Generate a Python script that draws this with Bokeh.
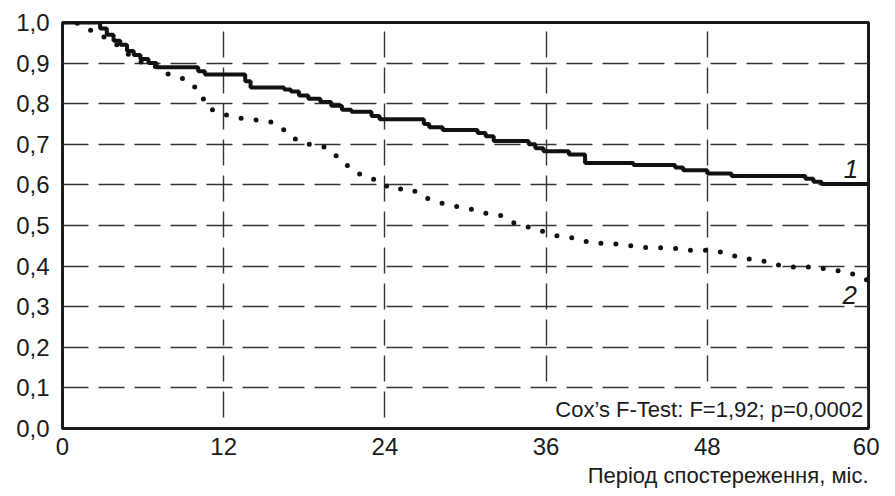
from bokeh.plotting import figure
from bokeh.models import Range1d, FixedTicker, Label, Title
from bokeh.embed import file_html
from bokeh.resources import INLINE

# Group 1 (solid): Kaplan-Meier step events (month, survival)
t1 = [0, 2.8, 3.3, 3.8, 4.3, 4.8, 5.3, 5.8, 6.4, 7.0, 10.1, 10.6, 13.6, 14.0,
      16.5, 17.0, 17.6, 18.3, 19.2, 20.0, 20.8, 21.5, 23.0, 23.6, 26.9, 27.3,
      28.3, 30.9, 31.5, 32.1, 34.7, 35.2, 35.8, 37.7, 38.9, 42.5, 45.6, 46.2,
      48.0, 49.8, 55.3, 55.9, 56.5, 60]
s1 = [1.0, 0.985, 0.97, 0.955, 0.945, 0.93, 0.92, 0.91, 0.90, 0.89, 0.88, 0.872,
      0.855, 0.84, 0.835, 0.83, 0.82, 0.812, 0.804, 0.795, 0.785, 0.78, 0.77,
      0.762, 0.75, 0.742, 0.735, 0.728, 0.72, 0.708, 0.70, 0.69, 0.683, 0.675,
      0.654, 0.649, 0.643, 0.636, 0.628, 0.622, 0.615, 0.608, 0.602, 0.602]

# Group 2 (dotted): survival estimates (month, survival)
t2 = [0, 1.0, 1.7, 2.6, 3.6, 4.3, 5.1, 6.0, 7.1, 7.9, 9.05, 9.8, 10.4, 10.8,
      11.8, 12.8, 14.2, 15.5, 16.5, 17.2, 18.0, 19.4, 20.2, 20.9, 21.6, 22.5,
      23.7, 24.4, 26.0, 26.8, 27.9, 29.0, 30.3, 31.4, 32.7, 33.6, 34.7, 35.8,
      36.9, 38.3, 39.4, 40.9, 42.3, 43.6, 45.2, 46.6, 48.1, 49.5, 50.5, 51.9,
      53.0, 54.4, 55.9, 57.3, 58.6, 59.7, 60]
s2 = [1.0, 1.0, 0.988, 0.972, 0.956, 0.939, 0.916, 0.90, 0.89, 0.872, 0.861,
      0.843, 0.818, 0.79, 0.776, 0.766, 0.761, 0.755, 0.735, 0.715, 0.702,
      0.695, 0.677, 0.657, 0.636, 0.62, 0.609, 0.59, 0.59, 0.571, 0.558, 0.549,
      0.541, 0.531, 0.524, 0.507, 0.496, 0.485, 0.474, 0.468, 0.456, 0.456,
      0.45, 0.445, 0.445, 0.439, 0.439, 0.432, 0.419, 0.415, 0.404, 0.398,
      0.398, 0.391, 0.384, 0.368, 0.365]

x_ticks = [0, 12, 24, 36, 48, 60]
y_ticks = [0.0, 0.1, 0.2, 0.3, 0.4, 0.5, 0.6, 0.7, 0.8, 0.9, 1.0]
y_tick_labels = ["0,0", "0,1", "0,2", "0,3", "0,4", "0,5", "0,6", "0,7", "0,8", "0,9", "1,0"]
x_title = "Період спостереження, міс."
test_text = "Cox’s F-Test: F=1,92; p=0,0002"
curve_labels = ["1", "2"]

FONT = "Liberation Sans"
INK = "#1a1a1a"

p = figure(width=879, height=490, output_backend="svg", toolbar_location=None,
           x_range=Range1d(0, 60), y_range=Range1d(0, 1),
           min_border_left=62, min_border_right=11, min_border_top=22,
           min_border_bottom=20)
p.background_fill_color = "white"
p.border_fill_color = "white"
p.outline_line_color = INK
p.outline_line_width = 3

for ax in (p.xaxis, p.yaxis):
    ax.axis_line_color = None
    ax.major_tick_line_color = None
    ax.minor_tick_line_color = None
    ax.major_label_text_font = FONT
    ax.major_label_text_font_size = "24px"
    ax.major_label_text_color = INK

p.xaxis.ticker = FixedTicker(ticks=x_ticks)
p.yaxis.ticker = FixedTicker(ticks=y_ticks)
p.yaxis.major_label_overrides = {v: l for v, l in zip(y_ticks, y_tick_labels)}
p.yaxis.major_label_standoff = 7
p.xaxis.major_label_standoff = 3

p.xgrid.ticker = FixedTicker(ticks=x_ticks[1:-1])
p.ygrid.ticker = FixedTicker(ticks=y_ticks[1:-1])
for g in (p.xgrid, p.ygrid):
    g.grid_line_color = "#333333"
    g.grid_line_width = 1.4
    g.grid_line_dash = "26 10"
p.xgrid.grid_line_dash_offset = 25

# x-axis title, right aligned below the axis
p.add_layout(Title(text=x_title, align="right", text_font=FONT,
                   text_font_size="22px", text_font_style="normal",
                   text_color=INK, standoff=6, offset=0), "below")

# white box behind the test text
p.quad(left=[34.5], right=[59.9], bottom=[0.006], top=[0.094],
       fill_color="white", line_color=None)

p.step(t1, s1, mode="after", line_color="#111111", line_width=4)
p.line(t2, s2, line_color="#111111", line_width=5, line_dash="0 15",
       line_cap="round")

p.add_layout(Label(x=59.6, y=0.047, text=test_text, text_font=FONT,
                   text_font_size="22px", text_align="right",
                   text_baseline="middle", text_color=INK))
p.add_layout(Label(x=58.7, y=0.64, text=curve_labels[0], text_font=FONT,
                   text_font_size="26px", text_font_style="italic",
                   text_align="center", text_baseline="middle", text_color=INK))
p.add_layout(Label(x=58.6, y=0.33, text=curve_labels[1], text_font=FONT,
                   text_font_size="26px", text_font_style="italic",
                   text_align="center", text_baseline="middle", text_color=INK))

open("out.html", "w").write(file_html(p, INLINE))
